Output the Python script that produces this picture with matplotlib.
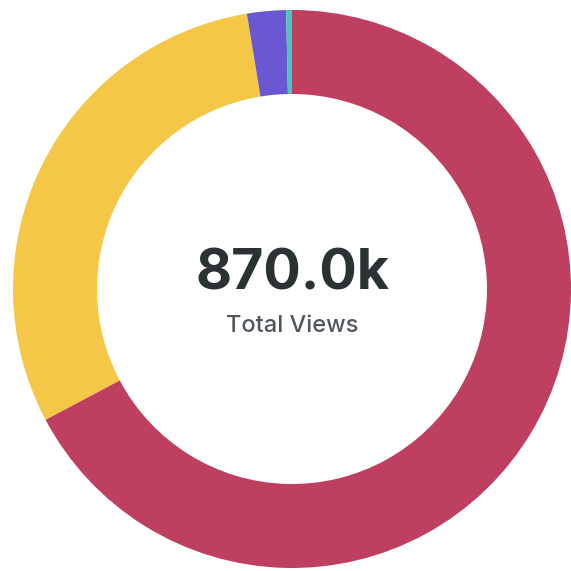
import matplotlib
matplotlib.use("Agg")
import matplotlib.pyplot as plt

labels = ["Source A", "Source B", "Source C", "Source D"]
views = [585000, 262500, 19600, 2900]
colors = ["#BF3F60", "#F5C746", "#6A58D2", "#4EC4C2"]
total_label = "870.0k"
sub_label = "Total Views"

fig = plt.figure(figsize=(5.71, 5.71), dpi=100)
ax = fig.add_axes([0, 0, 1, 1])
ax.pie(views, colors=colors, radius=279, center=(292, 282), startangle=90,
       counterclock=False, wedgeprops=dict(width=84, linewidth=0))
ax.set_xlim(0, 571)
ax.set_ylim(0, 571)
ax.set_aspect("equal")
ax.axis("off")

ax.text(293, 571 - 275, total_label, ha="center", va="center", fontsize=40,
        fontweight="bold", color="#2B3234", family=["Inter", "DejaVu Sans"])
ax.text(292, 571 - 326, sub_label, ha="center", va="center", fontsize=17,
        fontweight="medium", color="#4F575C", family=["Inter", "DejaVu Sans"])

fig.savefig("out.png", dpi=100, facecolor="white")
